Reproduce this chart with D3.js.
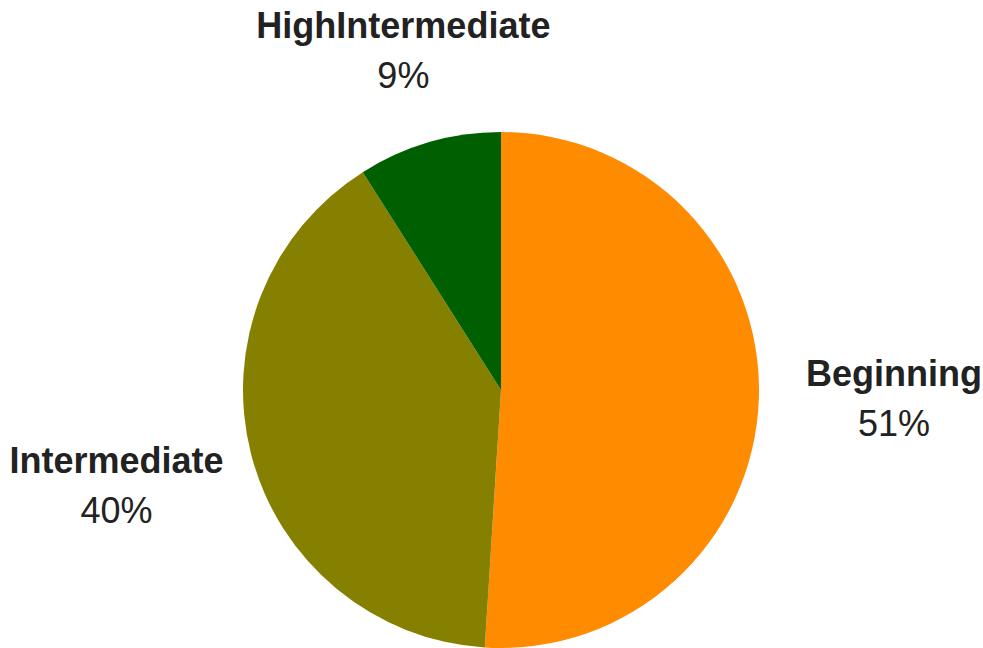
<!DOCTYPE html>
<html>
<head>
<meta charset="utf-8">
<script src="https://cdn.jsdelivr.net/npm/d3@7"></script>
<style>
  html, body { margin: 0; padding: 0; background: #fff; }
  svg { display: block; }
</style>
</head>
<body>
<svg id="chart" width="983" height="648"></svg>
<script>
// Data
const categories = ["Beginning", "Intermediate", "HighIntermediate"];
const values = [51, 40, 9];
const colors = ["#ff8c00", "#868000", "#005f00"];

const width = 983;
const height = 648;
const cx = 501, cy = 390;
const radius = 258;
const labelRadius = 397;  // label centre distance from pie centre
const edgeX = 1, edgeY = 5; // labels are pulled in to stay this far inside the canvas

const svg = d3.select("#chart");
const g = svg.append("g").attr("transform", `translate(${cx},${cy})`);

const pie = d3.pie().sort(null).value(d => d.value);
const arc = d3.arc().innerRadius(0).outerRadius(radius);

const data = categories.map((c, i) => ({ name: c, value: values[i], color: colors[i] }));
const arcs = pie(data);
const total = d3.sum(values);

g.selectAll("path.slice").data(arcs).enter().append("path")
  .attr("class", "slice")
  .attr("d", arc)
  .attr("fill", d => d.data.color);

// Labels: name (bold) + percent
const labels = g.selectAll("g.label").data(arcs).enter().append("g").attr("class", "label");

labels.append("text")
  .attr("text-anchor", "middle")
  .attr("y", -16)
  .attr("font-family", "'Liberation Sans', Arial, sans-serif")
  .attr("font-weight", "bold")
  .attr("font-size", 36)
  .attr("fill", "#222")
  .text(d => d.data.name);

labels.append("text")
  .attr("text-anchor", "middle")
  .attr("y", 34)
  .attr("font-family", "'Liberation Sans', Arial, sans-serif")
  .attr("font-size", 36)
  .attr("fill", "#222")
  .text(d => Math.round(d.data.value / total * 100) + "%");

// place on the mid angle, then slide toward the centre if the box leaves the canvas
labels.each(function(d) {
  const bb = this.getBBox();
  const a = (d.startAngle + d.endAngle) / 2;
  const ux = Math.sin(a), uy = -Math.cos(a);
  let dist = labelRadius;
  const lim = [];
  if (uy < 0) lim.push((cy - edgeY + bb.y) / -uy);
  if (uy > 0) lim.push((height - edgeY - cy - (bb.y + bb.height)) / uy);
  if (ux < 0) lim.push((cx - edgeX + bb.x) / -ux);
  if (ux > 0) lim.push((width - edgeX - cx - (bb.x + bb.width)) / ux);
  lim.forEach(l => { dist = Math.min(dist, l); });
  d3.select(this).attr("transform", `translate(${ux * dist},${uy * dist})`);
});
</script>
</body>
</html>
